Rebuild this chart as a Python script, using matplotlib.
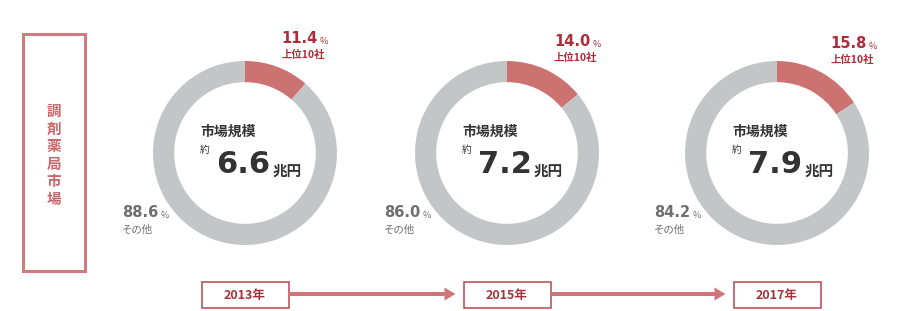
import numpy as np
import matplotlib.pyplot as plt
from matplotlib.patches import Rectangle, FancyArrow

plt.rcParams['font.family'] = ['Noto Sans CJK JP', 'DejaVu Sans']

years = ["2013年", "2015年", "2017年"]
top10_share = [11.4, 14.0, 15.8]
other_share = [88.6, 86.0, 84.2]
market_size = ["6.6", "7.2", "7.9"]
side_title = "調剤薬局市場"

RED = "#cc7371"
GRAY = "#c3c6c7"
DARKRED = "#b02a38"
TEXTGRAY = "#6f6f6f"
DARK = "#333333"
NUMFONT = ["DejaVu Sans", "Noto Sans CJK JP"]

W, H = 914, 311
fig = plt.figure(figsize=(W / 100, H / 100), dpi=100)
bg = fig.add_axes([0, 0, 1, 1])
bg.set_xlim(0, W)
bg.set_ylim(H, 0)
bg.axis("off")


def with_unit(x, y, num, unit, color, size, unit_size, unit_weight="normal"):
    t = bg.text(x, y, num, color=color, fontsize=size, fontweight="bold",
                ha="left", va="baseline", family=NUMFONT)
    bg.annotate(unit, xy=(1, 0), xycoords=t, xytext=(1.5, 0), textcoords="offset points",
                color=color, fontsize=unit_size, fontweight=unit_weight,
                ha="left", va="bottom")


# left title box
bg.add_patch(Rectangle((23, 34), 62, 237, fill=False, ec="#d27b7d", lw=2.2))
for i, ch in enumerate(side_title):
    bg.text(54, 111 + i * 17.5, ch, color="#c9686a", fontsize=10.5, fontweight="bold",
            ha="center", va="center")

centers = [245, 507, 777]
cy = 153
r = 92

for i, cx in enumerate(centers):
    ax = fig.add_axes([(cx - r) / W, (H - cy - r) / H, 2 * r / W, 2 * r / H])
    ax.pie([top10_share[i], other_share[i]], colors=[RED, GRAY], startangle=90,
           counterclock=False, radius=1, wedgeprops=dict(width=0.23, linewidth=0))
    ax.set_xlim(-1, 1)
    ax.set_ylim(-1, 1)
    ax.axis("off")

    # top 10 label near the end of the red slice
    theta = np.deg2rad(top10_share[i] / 100 * 360)
    xl_top = cx + r * np.sin(theta) - 24
    ytop = 43 + (top10_share[i] - 11.4) * 1.2
    with_unit(xl_top, ytop, f"{top10_share[i]:.1f}", "%", DARKRED, 10.5, 6.5)
    bg.text(xl_top, ytop + 12, "上位10社", color=DARKRED, fontsize=7.5, fontweight="bold",
            ha="left", va="center")

    # others label
    xl = cx - 123
    with_unit(xl, 217, f"{other_share[i]:.1f}", "%", TEXTGRAY, 10.5, 6.5)
    bg.text(xl, 230, "その他", color=TEXTGRAY, fontsize=7.5, ha="left", va="center")

    # center text
    bg.text(cx - 45, 132, "市場規模", color=DARK, fontsize=10, fontweight="bold",
            ha="left", va="center")
    bg.text(cx - 45, 150, "約", color=DARK, fontsize=7, ha="left", va="center")
    with_unit(cx - 29, 173, market_size[i], "兆円", DARK, 22, 10.5, "bold")

    # year box
    bw, bh = 87, 26
    bg.add_patch(Rectangle((cx - bw / 2, 282), bw, bh, fill=False, ec="#b8454e", lw=1.1))
    bg.text(cx, 295, years[i], color="#a8323c", fontsize=9, fontweight="bold",
            ha="center", va="center")

    # arrow to next year
    if i < len(centers) - 1:
        x0 = cx + bw / 2
        x1 = centers[i + 1] - bw / 2 - 8
        bg.add_patch(FancyArrow(x0, 294, x1 - x0, 0, width=4, head_width=13,
                                head_length=11, length_includes_head=True,
                                color="#cf7477", lw=0))

fig.savefig("out.png", dpi=100)
